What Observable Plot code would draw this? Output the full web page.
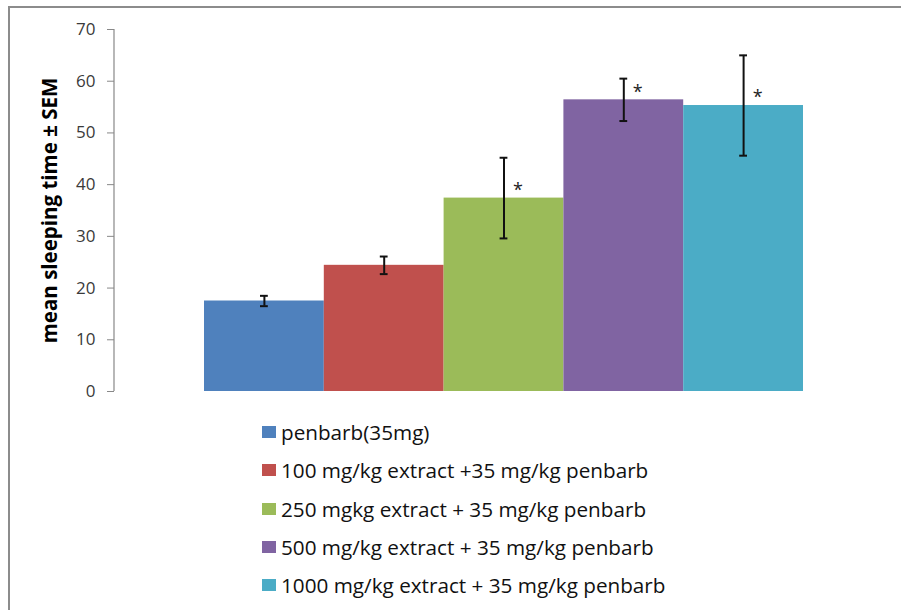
<!DOCTYPE html>
<html><head><meta charset="utf-8">
<script src="https://cdn.jsdelivr.net/npm/d3@7"></script>
<script src="https://cdn.jsdelivr.net/npm/@observablehq/plot@0.6"></script>
<style>
html,body{margin:0;overflow:hidden}
body{background:#fff;width:901px;height:610px;position:relative;font-family:"Open Sans",sans-serif}
#frame{position:absolute;left:8px;top:6px;width:940px;height:650px;border-left:2px solid #8c8c8c;border-top:2px solid #8c8c8c;pointer-events:none}
#chart{position:absolute;left:0;top:0}
#legend{position:absolute;left:262px;top:413px}
.row{display:flex;align-items:center;height:38.3px;font-size:20.7px;color:#111;white-space:nowrap}
.sw{width:14px;height:12px;margin-right:5px;flex:none}
</style></head>
<body><div id="chart"></div><div id="legend"></div><div id="frame"></div>
<script>
const groups = [
  "penbarb(35mg)",
  "100 mg/kg extract +35 mg/kg penbarb",
  "250 mgkg extract + 35 mg/kg penbarb",
  "500 mg/kg extract + 35 mg/kg penbarb",
  "1000 mg/kg extract + 35 mg/kg penbarb"
];
const means = [17.5, 24.4, 37.4, 56.4, 55.3];
const sems = [1.0, 1.7, 7.8, 4.1, 9.7];
const sigMarks = ["", "", "*", "*", "*"];
const colors = ["#4F81BD", "#C0504D", "#9BBB59", "#8064A2", "#4BACC6"];
const yTicks = [0, 10, 20, 30, 40, 50, 60, 70];
const yTitle = "mean sleeping time \u00B1 SEM";

const data = groups.map((g, i) => ({group: g, mean: means[i], sem: sems[i], sig: sigMarks[i]}));

const plot = Plot.plot({
  width: 901,
  height: 411,
  marginLeft: 114,
  marginTop: 29,
  marginBottom: 20,
  marginRight: 98,
  style: {fontFamily: "'Open Sans', sans-serif", background: "transparent"},
  x: {domain: groups, range: [204, 803], padding: 0, round: false, axis: null},
  y: {domain: [0, 70], axis: null},
  color: {domain: groups, range: colors},
  marks: [
    Plot.axisY({ticks: yTicks, tickSize: 7, tickPadding: 12, stroke: "#888", fontSize: 17, color: "#3a3a3a", label: null}),
    Plot.barY(data, {x: "group", y: "mean", fill: "group"}),
    Plot.ruleX(data, {x: "group", y1: d => d.mean - d.sem, y2: d => d.mean + d.sem, stroke: "#111", strokeWidth: 2}),
    Plot.tickY(data, {x: "group", y: d => d.mean + d.sem, stroke: "#111", strokeWidth: 2, insetLeft: 56, insetRight: 56}),
    Plot.tickY(data, {x: "group", y: d => d.mean - d.sem, stroke: "#111", strokeWidth: 2, insetLeft: 56, insetRight: 56}),
    Plot.text(data, {x: "group", y: "mean", text: "sig", dx: 14, dy: -8, fontSize: 18, fill: "#222"}),
    Plot.text([yTitle], {frameAnchor: "left", textAnchor: "middle", rotate: -90, dx: -64, fontSize: 20.5, fontWeight: "bold", fill: "#000"})
  ]
});
document.getElementById("chart").appendChild(plot);

// vertical axis line along the y scale range
const ys = plot.scale("y");
d3.select(plot).append("line")
  .attr("x1", 114).attr("x2", 114)
  .attr("y1", ys.apply(0)).attr("y2", ys.apply(70))
  .attr("stroke", "#888").attr("stroke-width", 1.2);

const leg = d3.select("#legend");
groups.forEach((g, i) => {
  const r = leg.append("div").attr("class", "row");
  r.append("div").attr("class", "sw").style("background", colors[i]);
  r.append("span").text(g);
});
</script>
</body></html>
